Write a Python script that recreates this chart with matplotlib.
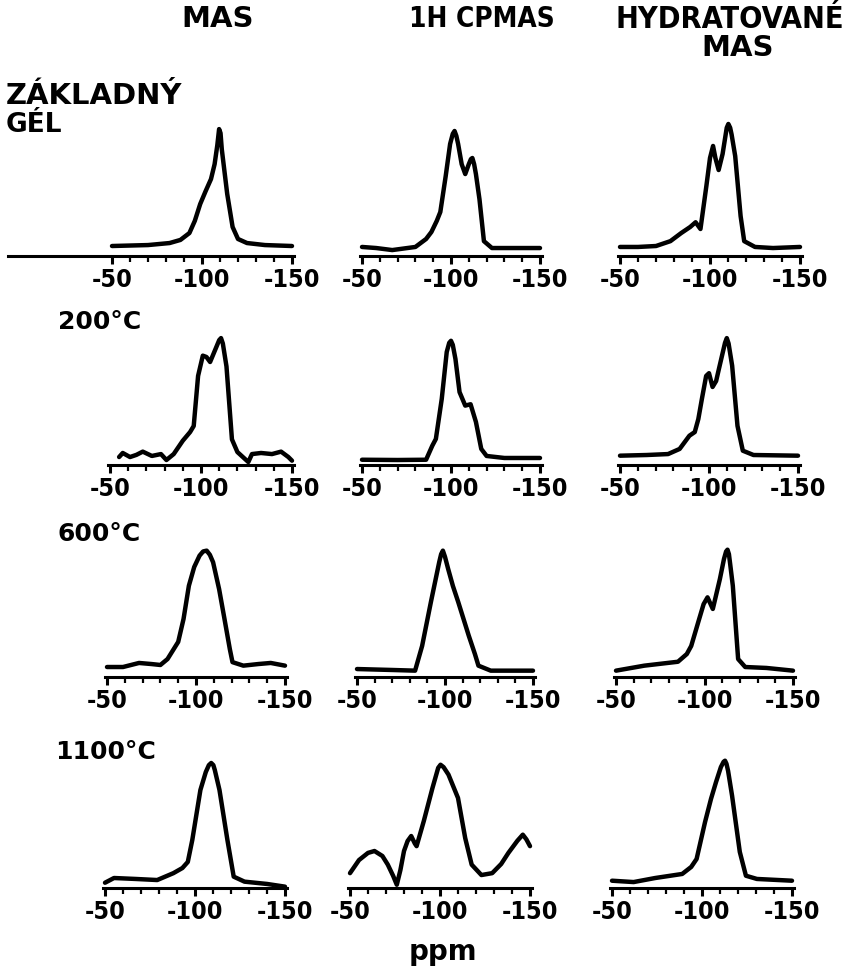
import matplotlib
matplotlib.use("Agg")
import matplotlib.pyplot as plt
from matplotlib import font_manager
from matplotlib.ticker import FixedLocator

W, H = 856, 970


def weight_num(w):
    if isinstance(w, (int, float)):
        return int(w)
    return font_manager.weight_dict.get(str(w).lower(), 400)


def pick_narrow():
    # the scan uses tall, narrow heavy letters; take a bold condensed face if one exists
    best = None
    for e in font_manager.fontManager.ttflist:
        st = str(e.stretch)
        narrow_name = "Narrow" in e.name or "Condensed" in e.name
        narrow_st = st in ("condensed", "semi-condensed", "extra-condensed")
        if not (narrow_name or narrow_st):
            continue
        w = weight_num(e.weight)
        score = abs(w - 750)
        if best is None or score < best[0]:
            best = (score, e.name, st if (narrow_st and not narrow_name) else "normal", w)
    if best is None or best[3] < 600:
        return "DejaVu Sans", "normal", "bold", False
    return best[1], best[2], best[3], True


NARROW, STRETCH, NWEIGHT, HAVE_NARROW = pick_narrow()

# 29Si spectra: (ppm, relative intensity, 0-100)
zakladny_mas = [(-50, 7.4), (-70, 8.1), (-82, 9.6), (-88, 11.9), (-93, 17), (-96, 26),
                (-99, 38.5), (-102, 48), (-105, 57), (-107, 68), (-108.5, 82), (-109.5, 94),
                (-110.3, 91), (-111, 79), (-114, 46), (-117, 21.5), (-120, 12.6), (-125, 9.6),
                (-135, 8.1), (-150, 7.4)]
zakladny_cp = [(-50, 6.7), (-58, 5.9), (-67, 4.4), (-80, 6.7), (-86, 12.6), (-89, 17.8),
               (-92, 26), (-94, 32.6), (-97, 59), (-99.5, 83), (-101, 90.5), (-102, 92.6),
               (-103, 89), (-104, 83), (-106, 68), (-108, 60.7), (-110, 68), (-111.2, 71.8),
               (-112, 72.6), (-113, 68), (-114, 60.7), (-116, 42), (-118.5, 11), (-123, 5.9),
               (-135, 5.9), (-150, 5.9)]
zakladny_hyd = [(-50, 6.7), (-60, 6.7), (-70, 7.4), (-78, 11), (-84, 17), (-89, 21.5),
                (-92, 25), (-94.7, 20), (-98, 52), (-100, 72.6), (-101.7, 81.5), (-103, 72.6),
                (-104.8, 63.7), (-107, 75.6), (-109.3, 95), (-110.2, 97.8), (-111.2, 95),
                (-112, 90), (-114, 74), (-117, 29.6), (-119, 11), (-125, 6.7), (-135, 5.9),
                (-150, 6.7)]

c200_mas = [(-55, 5.9), (-57, 8.9), (-61, 5.9), (-64.5, 7.5), (-68, 9.9), (-73, 6.7),
            (-78, 8.1), (-81, 3.7), (-85, 8.1), (-90, 18), (-94, 24.4), (-96, 28.9),
            (-98.4, 66), (-101, 81), (-103, 80), (-105, 76.3), (-108, 86), (-110, 92.5),
            (-111, 94), (-112, 90), (-114, 73), (-117, 19), (-120, 9.6), (-123, 5.9),
            (-126, 2.2), (-128, 8.1), (-133, 8.9), (-139, 8.1), (-144, 9.9), (-148, 5.9),
            (-150, 3.2)]
c200_cp = [(-50, 3.9), (-70, 3.7), (-86, 3.9), (-89.5, 14.3), (-91.5, 19.3), (-94.8, 48.9),
           (-97.6, 83.7), (-99, 90.5), (-100, 92), (-101, 89), (-102.5, 78.5), (-104.8, 54),
           (-108, 44), (-111, 45), (-114, 31.9), (-117, 11.9), (-120, 6.7), (-130, 5.2),
           (-150, 5.2)]
c200_hyd = [(-50, 6.9), (-65, 7.4), (-77, 8.1), (-83.5, 11.9), (-89, 21.7), (-92, 24.4),
            (-94, 34), (-96, 48.9), (-98.4, 66), (-100, 68), (-102, 57.8), (-104, 62.2),
            (-106, 73.6), (-109, 90.5), (-110, 94), (-111, 90), (-113, 73.6), (-116, 29),
            (-119, 10.6), (-125, 7.4), (-150, 6.9)]

c600_mas = [(-50, 7.4), (-59, 7.4), (-68, 10.4), (-75, 9.6), (-80, 8.9), (-84, 13.3),
            (-90, 26), (-93, 43), (-96, 67.6), (-99, 81.5), (-102, 89.9), (-104, 93),
            (-106, 93.6), (-107.8, 90.5), (-109.6, 85), (-113, 65), (-116, 43), (-119, 20.7),
            (-120.5, 11), (-126.6, 8.4), (-135, 9.6), (-142, 10.4), (-150, 8.4)]
c600_cp = [(-50, 5.9), (-70, 5.2), (-83, 4.7), (-87, 23), (-92, 55.6), (-96.7, 85),
           (-97.8, 91), (-98.8, 93.6), (-100, 89), (-101.8, 80), (-104.5, 67.4),
           (-107.5, 55.6), (-113.5, 30.6), (-117, 17), (-119, 8.4), (-126, 4.7), (-150, 4.7)]
c600_hyd = [(-50, 4.7), (-66, 8.4), (-85, 11.3), (-90, 17), (-92.5, 23), (-97, 43),
            (-99.5, 54), (-101.7, 59), (-104.7, 50.4), (-108.7, 72.6), (-111, 87.4),
            (-112.2, 93), (-113, 94.3), (-113.8, 91), (-114.5, 83.7), (-116, 67.6),
            (-119, 13.3), (-123, 7.4), (-135, 6.7), (-150, 4.7)]

c1100_mas = [(-50, 3.9), (-55, 7.4), (-67, 6.7), (-79, 5.9), (-88, 11), (-93, 14.8),
             (-96, 19.3), (-98.5, 35.6), (-103, 72.6), (-106, 85.9), (-107.7, 91),
             (-109, 92.6), (-110.2, 91), (-111, 87.4), (-113.6, 72.6), (-118, 35.6),
             (-121.5, 8.4), (-127.5, 4.7), (-140, 3), (-150, 1)]
c1100_cp = [(-50, 11), (-55, 20.7), (-60, 26), (-63.6, 27.4), (-68, 23.7), (-71, 17.3),
            (-74, 8.9), (-76, 2.4), (-78, 13.3), (-80, 27.4), (-82, 34.8), (-84, 38.5),
            (-86, 33), (-87, 31), (-91, 49.6), (-95.8, 74), (-99, 89), (-100.3, 91.3),
            (-102, 89.5), (-104.7, 84), (-110, 66.7), (-114, 37), (-117.6, 17.3),
            (-123, 9.6), (-129, 11), (-134, 17.8), (-138, 26), (-143, 35), (-146, 39.5),
            (-148, 36), (-150, 31)]
c1100_hyd = [(-50, 5.4), (-62, 4.4), (-74, 7.4), (-85, 9.6), (-89, 10.4), (-94, 15.6),
             (-97, 21.5), (-101.7, 48.9), (-105, 66), (-107.8, 78.5), (-110.5, 89.6),
             (-112, 93.5), (-112.8, 94.3), (-113.6, 92), (-114.5, 86.7), (-116.7, 68.4),
             (-121, 26.7), (-124.4, 9.1), (-130.5, 6.7), (-150, 5.4)]

spectra = [
    [zakladny_mas, zakladny_cp, zakladny_hyd],
    [c200_mas, c200_cp, c200_hyd],
    [c600_mas, c600_cp, c600_hyd],
    [c1100_mas, c1100_cp, c1100_hyd],
]

col_titles = ["MAS", "1H CPMAS", "HYDRATOVANÉ", "MAS"]
row_labels = ["ZÁKLADNÝ", "GÉL", "200°C", "600°C", "1100°C"]
major_ticks = [-50, -100, -150]
major_labels = ["-50", "-100", "-150"]
minor_ticks = [-50, -60, -70, -80, -90, -100, -110, -120, -130, -140, -150]

# panel layout in pixels: x of -50 ppm, x of -150 ppm, y of axis line, x where line starts
layout = [
    [(112, 292, 257, 8), (362, 540, 257, None), (620, 800, 257, None)],
    [(110, 292, 466, None), (362, 540, 466, None), (620, 798, 466, None)],
    [(107, 285, 678, None), (357, 533, 678, None), (616, 793, 678, None)],
    [(105, 285, 889, None), (350, 530, 889, None), (612, 792, 889, None)],
]
PANEL_H = 135
TICK_SIZE = 18 if HAVE_NARROW else 14.5

fig = plt.figure(figsize=(W / 100, H / 100), dpi=100)

for r, row in enumerate(layout):
    for c, (x50, x150, ybase, xstart) in enumerate(row):
        ppp = (x150 - x50) / 100
        left = xstart if xstart is not None else x50 - 2
        right = x150 + 2
        ax = fig.add_axes([left / W, (H - ybase) / H, (right - left) / W, PANEL_H / H])
        ax.patch.set_alpha(0)
        ppm = [p for p, _ in spectra[r][c]]
        inten = [v for _, v in spectra[r][c]]
        ax.plot(ppm, inten, color="black", lw=3.2, solid_joinstyle="round",
                solid_capstyle="round", clip_on=False)
        ax.set_xlim(-50 + (x50 - left) / ppp, -150 - (right - x150) / ppp)
        ax.set_ylim(0, 100)
        for s in ["top", "left", "right"]:
            ax.spines[s].set_visible(False)
        ax.spines["bottom"].set_linewidth(2.2)
        ax.set_yticks([])
        ax.xaxis.set_major_locator(FixedLocator(major_ticks))
        ax.xaxis.set_minor_locator(FixedLocator(minor_ticks))
        ax.set_xticklabels(major_labels, fontfamily=NARROW, fontstretch=STRETCH,
                           fontweight=NWEIGHT, fontsize=TICK_SIZE)
        ax.tick_params(axis="x", which="major", direction="out", length=6, width=2.2, pad=2)
        ax.tick_params(axis="x", which="minor", direction="out", length=4, width=1.6)


def put(text, x, y, size, ha="left", narrow=False):
    fam = NARROW if narrow else "DejaVu Sans"
    st = STRETCH if narrow else "normal"
    wt = NWEIGHT if narrow else "bold"
    fig.text(x / W, 1 - y / H, text, ha=ha, va="center", fontsize=size,
             fontweight=wt, fontfamily=fam, fontstretch=st)


put(col_titles[0], 218, 19, 21, ha="center")
put(col_titles[1], 482, 19, 20 if HAVE_NARROW else 18, ha="center", narrow=True)
put(col_titles[2], 730, 19, 22 if HAVE_NARROW else 19, ha="center", narrow=True)
put(col_titles[3], 738, 48, 21, ha="center")

put(row_labels[0], 6, 96, 21)
put(row_labels[1], 6, 125, 19)
put(row_labels[2], 58, 322, 18)
put(row_labels[3], 58, 534, 18)
put(row_labels[4], 55, 752, 18)

put("ppm", 443, 952, 20, ha="center")

fig.savefig("out.png", dpi=100)
